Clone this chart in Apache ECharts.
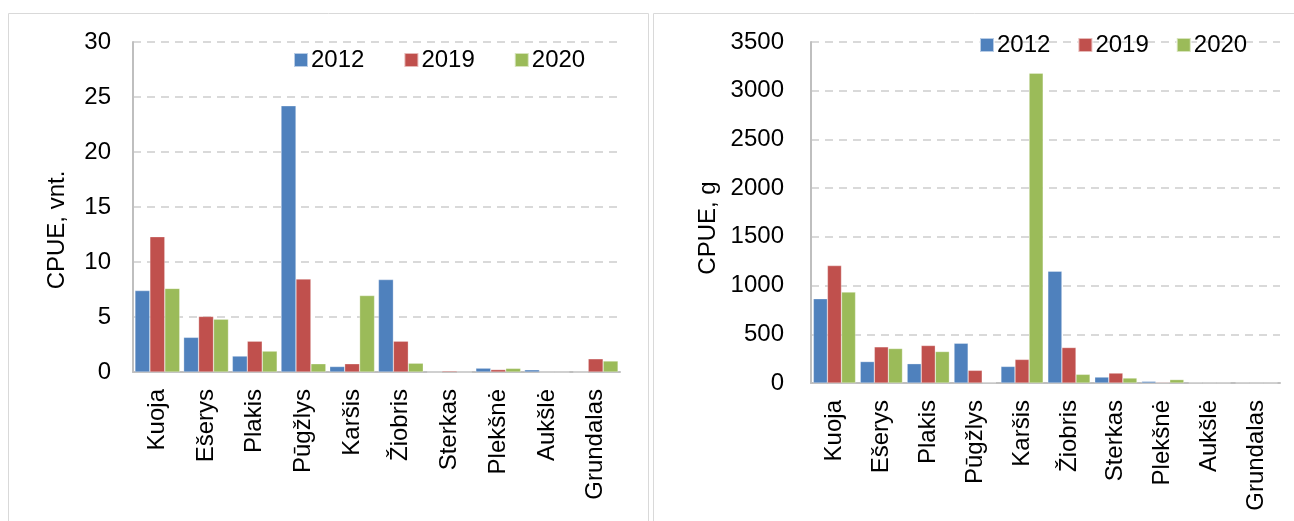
<!DOCTYPE html>
<html><head><meta charset="utf-8">
<script src="https://cdn.jsdelivr.net/npm/echarts@6/dist/echarts.min.js"></script>
<style>html,body{margin:0;padding:0;background:#fff}#c{width:1294px;height:521px}</style>
</head><body><div id="c"></div>
<script>
const categories = ['Kuoja','Ešerys','Plakis','Pūgžlys','Karšis','Žiobris','Sterkas','Plekšnė','Aukšlė','Grundalas'];
const years = ['2012','2019','2020'];
const colors = ['#4F81BD','#C0504D','#9BBB59'];
// CPUE, vnt.
const vnt2012 = [7.4, 3.15, 1.45, 24.2, 0.5, 8.4, 0, 0.35, 0.2, 0];
const vnt2019 = [12.3, 5.05, 2.8, 8.45, 0.75, 2.8, 0.1, 0.22, 0, 1.2];
const vnt2020 = [7.6, 4.8, 1.9, 0.75, 6.95, 0.8, 0, 0.33, 0, 1.0];
// CPUE, g
const g2012 = [865, 220, 198, 408, 170, 1147, 61, 17, 3, 2];
const g2019 = [1205, 371, 385, 130, 242, 364, 102, 7, 2, 1];
const g2020 = [933, 354, 323, 5, 3180, 89, 51, 35, 2, 1];
const leftTicks = [0, 30, 5];
const rightTicks = [0, 3500, 500];

const FONT = 'Liberation Sans, Arial, sans-serif';
const FS = 24;
const chart = echarts.init(document.getElementById('c'), null, {renderer: 'canvas'});

function xAx(gi, margin) {
  return {
    type: 'category', gridIndex: gi, data: categories,
    axisLine: {lineStyle: {color: '#BFBFBF', width: 2}},
    axisTick: {show: false},
    axisLabel: {rotate: 90, color: '#000', fontSize: FS, fontFamily: FONT, margin: margin, interval: 0}
  };
}
function yAx(gi, t, margin) {
  return {
    type: 'value', gridIndex: gi, min: t[0], max: t[1], interval: t[2],
    axisLine: {show: true, lineStyle: {color: '#BFBFBF', width: 2}},
    axisTick: {show: false},
    splitLine: {lineStyle: {color: '#D9D9D9', type: [8, 6], width: 2}},
    axisLabel: {color: '#000', fontSize: FS, fontFamily: FONT, margin: margin, formatter: v => String(v)}
  };
}
function bars(gi, arrs, gap) {
  return arrs.map((d, i) => ({
    name: years[i], type: 'bar', xAxisIndex: gi, yAxisIndex: gi, data: d,
    barGap: '0%', barCategoryGap: gap,
    itemStyle: {color: colors[i], borderColor: 'rgba(255,255,255,0.6)', borderWidth: 0.5},
    emphasis: {disabled: true}
  }));
}
function legend(left, top, gap) {
  return {data: years, left: left, top: top, itemWidth: 14, itemHeight: 14, itemGap: gap, icon: 'rect',
    textStyle: {fontSize: FS, color: '#000', fontFamily: FONT, padding: [0, 0, 0, -2]}};
}

chart.setOption({
  animation: false,
  color: colors,
  textStyle: {fontFamily: FONT},
  graphic: [
    {type: 'rect', shape: {x: 8.5, y: 13.5, width: 640, height: 520}, style: {fill: 'none', stroke: '#D9D9D9', lineWidth: 1}},
    {type: 'rect', shape: {x: 653.5, y: 13.5, width: 650, height: 520}, style: {fill: 'none', stroke: '#D9D9D9', lineWidth: 1}},
    {type: 'text', x: 57, y: 230, rotation: Math.PI / 2,
      style: {text: 'CPUE, vnt.', fill: '#000', font: FS + 'px ' + FONT, textAlign: 'center', textVerticalAlign: 'middle'}},
    {type: 'text', x: 708, y: 228, rotation: Math.PI / 2,
      style: {text: 'CPUE, g', fill: '#000', font: FS + 'px ' + FONT, textAlign: 'center', textVerticalAlign: 'middle'}}
  ],
  legend: [legend(288, 43, 39), legend(974, 28, 27)],
  grid: [
    {left: 133, right: 674, top: 42, bottom: 149},
    {left: 811, right: 14, top: 42, bottom: 138}
  ],
  xAxis: [xAx(0, 17), xAx(1, 17)],
  yAxis: [yAx(0, leftTicks, 22), yAx(1, rightTicks, 27)],
  series: [...bars(0, [vnt2012, vnt2019, vnt2020], '8%'), ...bars(1, [g2012, g2019, g2020], '10%')]
});
</script></body></html>
